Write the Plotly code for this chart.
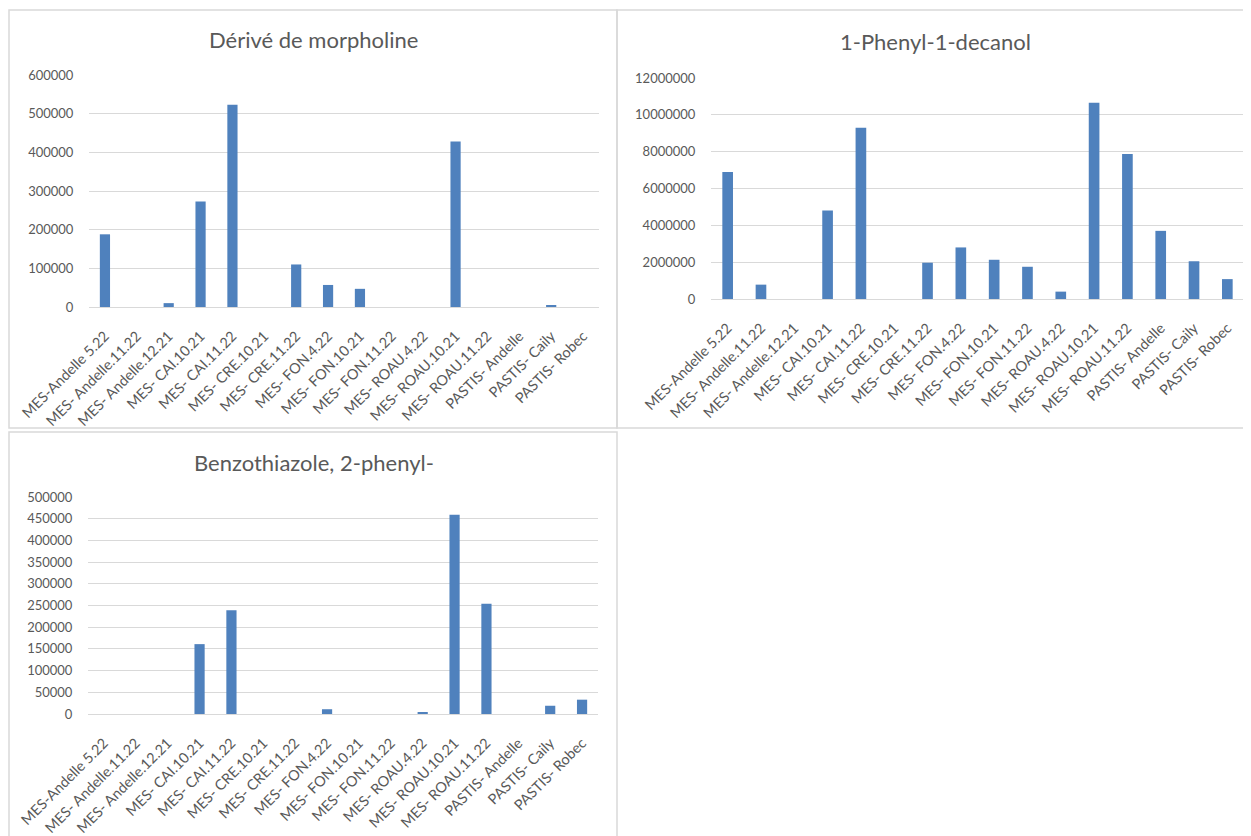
import plotly.graph_objects as go

categories = ["MES-Andelle 5.22", "MES- Andelle.11.22", "MES- Andelle.12.21", "MES- CAI.10.21",
              "MES- CAI.11.22", "MES- CRE.10.21", "MES- CRE.11.22", "MES- FON.4.22",
              "MES- FON.10.21", "MES- FON.11.22", "MES- ROAU.4.22", "MES- ROAU.10.21",
              "MES- ROAU.11.22", "PASTIS- Andelle", "PASTIS- Caily", "PASTIS- Robec"]

morpholine = [188000, 0, 10000, 273000, 523000, 0, 110000, 57000,
              47000, 0, 0, 428000, 0, 0, 3000, 0]
phenyl_decanol = [6900000, 780000, 0, 4800000, 9300000, 0, 1970000, 2800000,
                  2130000, 1750000, 400000, 10650000, 7880000, 3700000, 2050000, 1080000]
benzothiazole = [0, 0, 0, 161000, 239000, 0, 0, 11000,
                 0, 0, 4000, 459000, 254000, 0, 19000, 33000]

titles = ["Dérivé de morpholine", "1-Phenyl-1-decanol", "Benzothiazole, 2-phenyl-"]
y_ranges = [(0, 600000, 100000), (0, 12000000, 2000000), (0, 500000, 50000)]

# page body has an 8px margin: figure sized to fit the window
W, H = 1243, 828
BAR = "#4F81BD"
GRID = "#D9D9D9"
TXT = "#595959"
FONT = "Lato"

# plot areas in figure pixels: (x0, x1, ytop, ybottom)
areas = [(81, 591, 67, 299), (703, 1236, 70, 291), (80, 590, 489, 706)]
panels = [(1, 609, 2, 420), (609, 1242, 2, 420), (1, 609, 424, 834)]
title_pos = [(305, 32), (927, 34), (306, 454)]

fig = go.Figure()
series = [morpholine, phenyl_decanol, benzothiazole]
layout = dict(width=W, height=H, margin=dict(l=0, r=0, t=0, b=0, autoexpand=False),
              template="none",
              paper_bgcolor="white", plot_bgcolor="white", showlegend=False,
              bargap=0.68, font=dict(family=FONT, color=TXT))
shapes = []
annotations = []
for i, (vals, (x0, x1, yt, yb), (ymin, ymax, dt)) in enumerate(zip(series, areas, y_ranges)):
    n = "" if i == 0 else str(i + 1)
    fig.add_trace(go.Bar(x=categories, y=vals, marker_color=BAR, marker_line_width=0,
                         xaxis="x" + n, yaxis="y" + n))
    layout["xaxis" + n] = dict(domain=[x0 / W, x1 / W], anchor="y" + n, tickangle=-45,
                               automargin=False,
                               tickfont=dict(size=14.5, color=TXT, family=FONT),
                               showgrid=False, showline=False,
                               ticks="outside", ticklen=14, tickcolor="rgba(0,0,0,0)",
                               categoryorder="array", categoryarray=categories)
    layout["yaxis" + n] = dict(domain=[1 - yb / H, 1 - yt / H], anchor="x" + n,
                               automargin=False,
                               range=[ymin, ymax], dtick=dt, tick0=0, tickformat="d",
                               showgrid=True, gridcolor=GRID, gridwidth=1,
                               zeroline=True, zerolinecolor=GRID, zerolinewidth=1,
                               showline=False, ticks="outside", ticklen=12, tickcolor="rgba(0,0,0,0)",
                               tickfont=dict(size=13, color=TXT, family=FONT))
    px0, px1, py0, py1 = panels[i]
    shapes.append(dict(type="rect", xref="paper", yref="paper",
                       x0=px0 / W, x1=px1 / W, y0=1 - py1 / H, y1=1 - py0 / H,
                       line=dict(color=GRID, width=1.5), fillcolor="rgba(0,0,0,0)", layer="below"))
    tx, ty = title_pos[i]
    annotations.append(dict(text=titles[i], x=tx / W, y=1 - ty / H, xref="paper", yref="paper",
                            showarrow=False, xanchor="center", yanchor="middle",
                            font=dict(size=22, color=TXT, family=FONT)))
layout["shapes"] = shapes
layout["annotations"] = annotations
fig.update_layout(**layout)
fig.write_html("out.html")
